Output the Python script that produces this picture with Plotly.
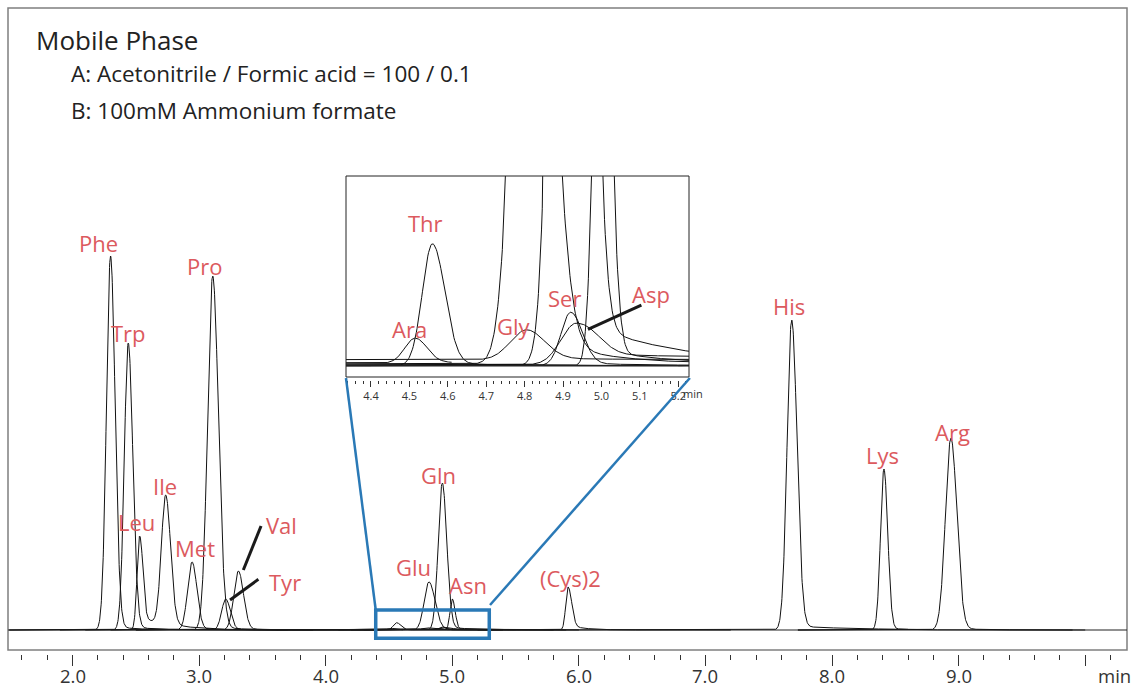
import numpy as np
import plotly.graph_objects as go

# ---------------- data ----------------
names = ["Phe", "Trp", "Leu", "Ile", "Met", "Pro", "Tyr", "Val", "Ara", "Thr",
         "Glu", "Gly", "Gln", "Ser", "Asp", "Asn", "(Cys)2", "His", "Lys", "Arg"]
rt = [2.300, 2.440, 2.530, 2.736, 2.944, 3.107, 3.210, 3.310, 4.515, 4.560,
      4.815, 4.805, 4.921, 4.920, 4.935, 5.000, 5.914, 7.681, 8.410, 8.939]
height = [374, 287, 94, 130, 68, 354, 31, 59, 1.5, 7.3,
          48, 1.8, 147, 3.2, 2.5, 31, 43, 310, 161, 192]
sigma_left = [0.032, 0.031, 0.020, 0.034, 0.035, 0.040, 0.032, 0.036, 0.027, 0.026,
              0.037, 0.042, 0.032, 0.025, 0.040, 0.018, 0.018, 0.036, 0.027, 0.043]
sigma_right = [0.036, 0.036, 0.024, 0.038, 0.038, 0.045, 0.036, 0.040, 0.030, 0.032,
               0.047, 0.046, 0.035, 0.030, 0.050, 0.022, 0.028, 0.042, 0.030, 0.047]
tail_frac = [0.010, 0.012, 0.150, 0.020, 0.020, 0.010, 0.030, 0.020, 0.050, 0.020,
             0.040, 0.050, 0.020, 0.050, 0.250, 0.030, 0.120, 0.013, 0.010, 0.010]
tail_tau = [0.20, 0.20, 0.20, 0.20, 0.20, 0.20, 0.20, 0.20, 0.20, 0.20,
            0.15, 0.30, 0.25, 0.20, 1.50, 0.20, 0.12, 0.50, 0.20, 0.20]
channel = [0, 1, 2, 2, 3, 4, 5, 6, 7, 8, 9, 10, 11, 12, 13, 14, 15, 16, 17, 18]

channel_start = [1.50, 1.50, 1.90, 2.10, 2.30, 2.50, 2.50, 3.90, 3.60, 4.10,
                 4.10, 4.20, 4.30, 4.30, 4.40, 5.20, 5.60, 7.73, 7.73]
channel_end = [3.90, 3.70, 3.60, 3.90, 4.30, 4.40, 4.40, 4.61, 5.40, 5.80,
               5.50, 6.00, 5.60, 5.80, 5.90, 7.20, 8.60, 9.90, 10.00]
channel_offset = [0, 0, 0, 0, 0, 0, 0, 0.15, 0, 0.10,
                  0.35, 0, 0, 0.05, 0, 0, 0, 0, 0]

# label positions (data coords of main / inset axes)
main_labels = ["Phe", "Trp", "Leu", "Ile", "Met", "Pro", "Val", "Tyr",
               "Gln", "Glu", "Asn", "(Cys)2", "His", "Lys", "Arg"]
main_label_x = [2.204, 2.441, 2.507, 2.731, 2.968, 3.039, 3.652, 3.679,
                4.889, 4.692, 5.126, 5.930, 7.660, 8.402, 8.955]
main_label_y = [386.7, 297.3, 108.3, 144.0, 81.7, 364.3, 105.0, 48.3,
                155.0, 63.3, 45.0, 51.7, 324.0, 175.0, 198.0]
inset_labels = ["Thr", "Ara", "Gly", "Ser", "Asp"]
inset_label_x = [4.543, 4.500, 4.772, 4.905, 5.128]
inset_label_y = [8.56, 2.18, 2.40, 4.04, 4.29]

main_tickvals = [2, 3, 4, 5, 6, 7, 8, 9, 10]
main_ticktext = ["2.0", "3.0", "4.0", "5.0", "6.0", "7.0", "8.0", "9.0", ""]
inset_tickvals = [4.4, 4.5, 4.6, 4.7, 4.8, 4.9, 5.0, 5.1, 5.2]
inset_ticktext = ["4.4", "4.5", "4.6", "4.7", "4.8", "4.9", "5.0", "5.1", "5.2"]

title_lines = ["Mobile Phase", "A: Acetonitrile / Formic acid = 100 / 0.1",
               "B: 100mM Ammonium formate"]

# ---------------- geometry helpers ----------------
W, H = 1132, 684
ML, MR, MT, MB = 8, 5, 8, 30
PW, PH = W - ML - MR, H - MT - MB


def px2x(px):
    return (px - ML) / PW


def py2y(py):
    return (H - MB - py) / PH


X_RANGE = [1.49, 10.33]
Y_RANGE = [-24, 622]
INSET_X = [4.335, 5.228]
M = 16.7
INSET_Y = [-(380 - 365.7) / M, (365.7 - 176) / M]


def peak_shape(t, t0, h, sl, sr, ta, tau):
    d = t - t0
    left = np.exp(-0.5 * (d / sl) ** 2)
    dp = np.clip(d, 0, None)
    right = np.exp(-0.5 * (dp / sr) ** 2) + ta * np.exp(-dp / tau) * (1 - np.exp(-(dp / sr) ** 2))
    return h * np.where(d < 0, left, right)


fig = go.Figure()
LINE = dict(color="#111111", width=1)
for c in range(len(channel_start)):
    t = np.arange(channel_start[c], channel_end[c] + 1e-9, 0.002)
    y = np.full_like(t, channel_offset[c], dtype=float)
    for i in range(len(names)):
        if channel[i] == c:
            y = y + peak_shape(t, rt[i], height[i], sigma_left[i], sigma_right[i],
                               tail_frac[i], tail_tau[i])
    fig.add_trace(go.Scatter(x=t, y=y, mode="lines", line=LINE, hoverinfo="skip",
                             xaxis="x", yaxis="y", showlegend=False))
    fig.add_trace(go.Scatter(x=t, y=y, mode="lines", line=LINE, hoverinfo="skip",
                             xaxis="x2", yaxis="y2", showlegend=False))

LABEL_FONT = dict(family="Open Sans", size=22, color="#DC5A5E")
TICK_FONT = dict(family="Open Sans", size=18.5, color="#333333")
annotations = []
for txt, x, y in zip(main_labels, main_label_x, main_label_y):
    annotations.append(dict(x=x, y=y, xref="x", yref="y", text=txt, showarrow=False,
                            font=LABEL_FONT, xanchor="center", yanchor="middle"))
for txt, x, y in zip(inset_labels, inset_label_x, inset_label_y):
    annotations.append(dict(x=x, y=y, xref="x2", yref="y2", text=txt, showarrow=False,
                            font=LABEL_FONT, xanchor="center", yanchor="middle"))
# main x tick labels (placed as text right under the tick marks)
for v, txt in zip(main_tickvals, main_ticktext):
    if txt:
        annotations.append(dict(x=v, y=py2y(675.5), xref="x", yref="paper", text=txt,
                                showarrow=False, xanchor="center", yanchor="middle",
                                font=TICK_FONT))

annotations.append(dict(x=px2x(34), y=py2y(40), xref="paper", yref="paper", text=title_lines[0],
                        showarrow=False, xanchor="left", yanchor="middle",
                        font=dict(family="Open Sans", size=26, color="#222222")))
annotations.append(dict(x=px2x(69), y=py2y(74), xref="paper", yref="paper", text=title_lines[1],
                        showarrow=False, xanchor="left", yanchor="middle",
                        font=dict(family="Open Sans", size=22.5, color="#222222")))
annotations.append(dict(x=px2x(69), y=py2y(110), xref="paper", yref="paper", text=title_lines[2],
                        showarrow=False, xanchor="left", yanchor="middle",
                        font=dict(family="Open Sans", size=22.5, color="#222222")))
annotations.append(dict(x=px2x(1114), y=py2y(675.5), xref="paper", yref="paper", text="min",
                        showarrow=False, xanchor="center", yanchor="middle",
                        font=TICK_FONT))
annotations.append(dict(x=px2x(693), y=py2y(393), xref="paper", yref="paper", text="min",
                        showarrow=False, xanchor="center", yanchor="middle",
                        font=dict(family="Open Sans", size=11, color="#333333")))

BLUE = "#2A79B6"
shapes = [
    # main frame
    dict(type="rect", xref="paper", yref="paper", x0=0, x1=1, y0=py2y(650), y1=1,
         line=dict(color="#7F7F7F", width=1.5), layer="above"),
    # main baseline
    dict(type="line", xref="x", yref="y", x0=X_RANGE[0], x1=X_RANGE[1], y0=0, y1=0,
         line=dict(color="#222222", width=1.2)),
    # inset frame
    dict(type="rect", xref="paper", yref="paper", x0=px2x(346), x1=px2x(689),
         y0=py2y(377), y1=py2y(176), line=dict(color="#222222", width=1)),
    # inset baseline
    dict(type="line", xref="x2", yref="y2", x0=INSET_X[0], x1=INSET_X[1], y0=0, y1=0,
         line=dict(color="#222222", width=1.5)),
    # zoom box and connectors
    dict(type="rect", xref="x", yref="y", x0=4.395, x1=5.292, y0=-8.3, y1=20,
         line=dict(color=BLUE, width=3.5)),
    dict(type="line", xref="x", yref="y", x0=4.395, y0=20, x1=4.160, y1=252,
         line=dict(color=BLUE, width=2.5)),
    dict(type="line", xref="x", yref="y", x0=5.298, y0=25, x1=6.877, y1=252,
         line=dict(color=BLUE, width=2.5)),
    # leader lines
    dict(type="line", xref="x", yref="y", x0=3.349, y0=60, x1=3.489, y1=104,
         line=dict(color="#1A1A1A", width=3)),
    dict(type="line", xref="x", yref="y", x0=3.244, y0=30, x1=3.468, y1=50.7,
         line=dict(color="#1A1A1A", width=3)),
    dict(type="line", xref="x2", yref="y2", x0=4.965, y0=2.18, x1=5.104, y1=3.63,
         line=dict(color="#1A1A1A", width=3)),
]

fig.update_layout(
    width=W, height=H, margin=dict(l=ML, r=MR, t=MT, b=MB, autoexpand=False),
    paper_bgcolor="white", plot_bgcolor="white", showlegend=False,
    annotations=annotations, shapes=shapes,
    xaxis=dict(range=X_RANGE, domain=[0, 1], anchor="y", showgrid=False, zeroline=False,
               showline=False, automargin=False, tickmode="array", tickvals=main_tickvals,
               showticklabels=False, ticks="outside", ticklen=11, tickwidth=1,
               tickcolor="#333333",
               minor=dict(dtick=0.2, tick0=0, ticks="outside", ticklen=5, tickwidth=1,
                          tickcolor="#333333", showgrid=False)),
    yaxis=dict(range=Y_RANGE, domain=[0, 1], anchor="x", visible=False, automargin=False),
    xaxis2=dict(range=INSET_X, domain=[px2x(346), px2x(689)], anchor="y2", showgrid=False,
                zeroline=False, showline=False, automargin=False, tickmode="array",
                tickvals=inset_tickvals, ticktext=inset_ticktext, ticks="outside", ticklen=6,
                tickwidth=1, tickcolor="#333333",
                tickfont=dict(family="Open Sans", size=11, color="#333333"),
                minor=dict(dtick=0.02, tick0=0, ticks="outside", ticklen=3, tickwidth=1,
                           tickcolor="#333333", showgrid=False)),
    yaxis2=dict(range=INSET_Y, domain=[py2y(380), py2y(176)], anchor="x2", visible=False,
                automargin=False),
)

fig.write_html("out.html", config={"displayModeBar": False},
               post_script="document.body.style.margin='0';document.body.style.overflow='hidden';")
